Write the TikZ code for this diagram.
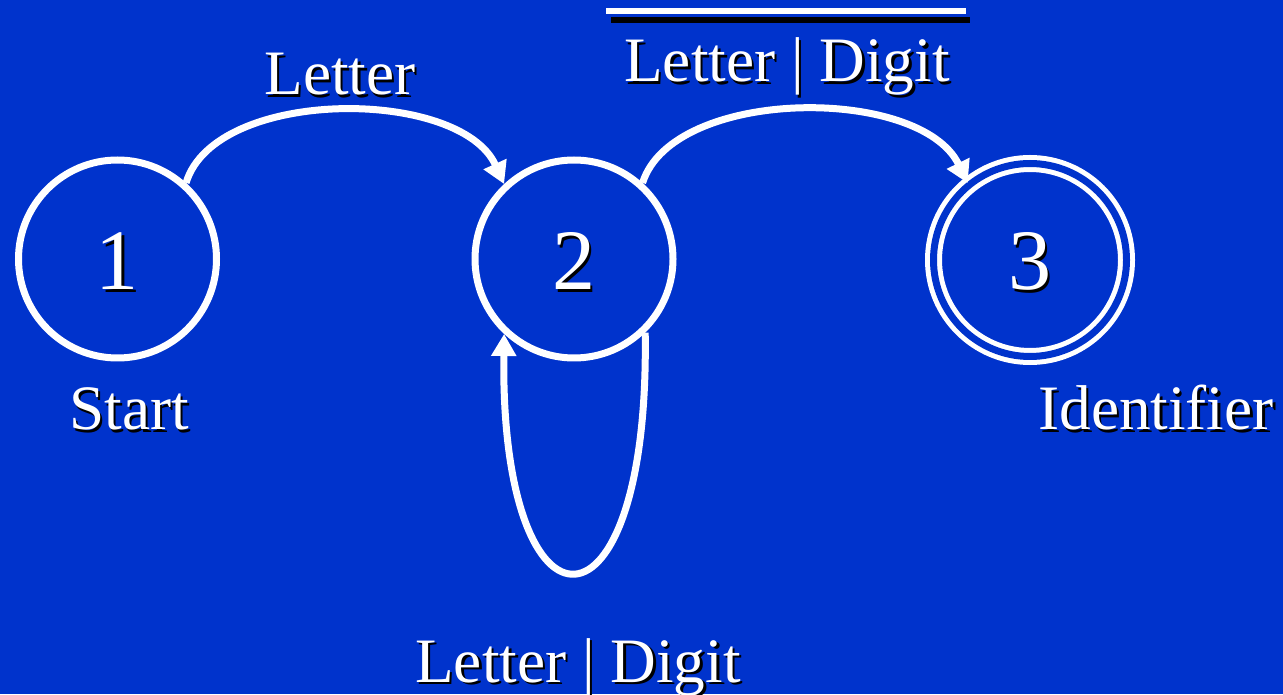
\documentclass[tikz,border=0pt]{standalone}
\usepackage{fontspec}
\setmainfont{Liberation Serif}
\usepackage{xcolor}
\definecolor{slidebg}{HTML}{0033CC}
\usetikzlibrary{arrows.meta, positioning}

\tikzset{
  state/.style={circle, draw=white, line width=0.14cm, minimum size=3.96cm, inner sep=0pt},
  accept/.style={circle, draw=white, line width=0.1cm, double=slidebg, double distance=0.14cm,
    minimum size=3.86cm, inner sep=0pt},
  trans/.style={white, line width=0.14cm, -{Triangle[length=0.44cm, width=0.48cm]}},
  lbl/.style={white, font=\fontsize{36}{40}\selectfont, anchor=base, inner sep=0pt},
  digit/.style={lbl, font=\fontsize{49}{54}\selectfont},
  shadowed/.style={black, xshift=0.05cm, yshift=-0.05cm}
}
% text with a dark drop shadow
\newcommand\shadowtext[4][lbl]{%
  \node[#1, shadowed] at #3 {#4};
  \node[#1] (#2) at #3 {#4};}

\begin{document}
\begin{tikzpicture}
  \fill[slidebg] (0,0) rectangle (25.66,13.88);
  \useasboundingbox (0,0) rectangle (25.66,13.88);

  % states
  \node[state] (q1) at (2.35,8.70) {};
  \node[state] (q2) at (11.48,8.70) {};
  \node[accept] (q3) at (20.60,8.68) {};
  \shadowtext[digit]{d1}{(2.35,8.08)}{1}
  \shadowtext[digit]{d2}{(11.48,8.08)}{2}
  \shadowtext[digit]{d3}{(20.60,8.08)}{3}

  % transitions
  \draw[trans] (q1.48) .. controls (4.30,12.14) and (9.20,12.14) .. (q2.133);
  \draw[trans] (q2.48) .. controls (13.46,12.14) and (18.40,12.18) .. (q3.129);
  \draw[trans] (q2.-46) .. controls (13.00,0.86) and (10.00,0.86) .. (q2.-133);

  % labels
  \shadowtext{l12}{(6.80,11.98)}{Letter}
  \shadowtext{l23}{(15.74,12.24)}{Letter | Digit}
  \shadowtext{l22}{(11.56,0.24)}{Letter | Digit}
  \shadowtext{start}{(2.58,5.28)}{Start}
  \shadowtext{ident}{(23.12,5.28)}{Identifier}

  % bar over the upper label
  \draw[black, line width=0.12cm] (12.22,13.48) -- (19.40,13.48);
  \draw[white, line width=0.12cm] (12.12,13.65) -- (19.32,13.65);
\end{tikzpicture}
\end{document}
